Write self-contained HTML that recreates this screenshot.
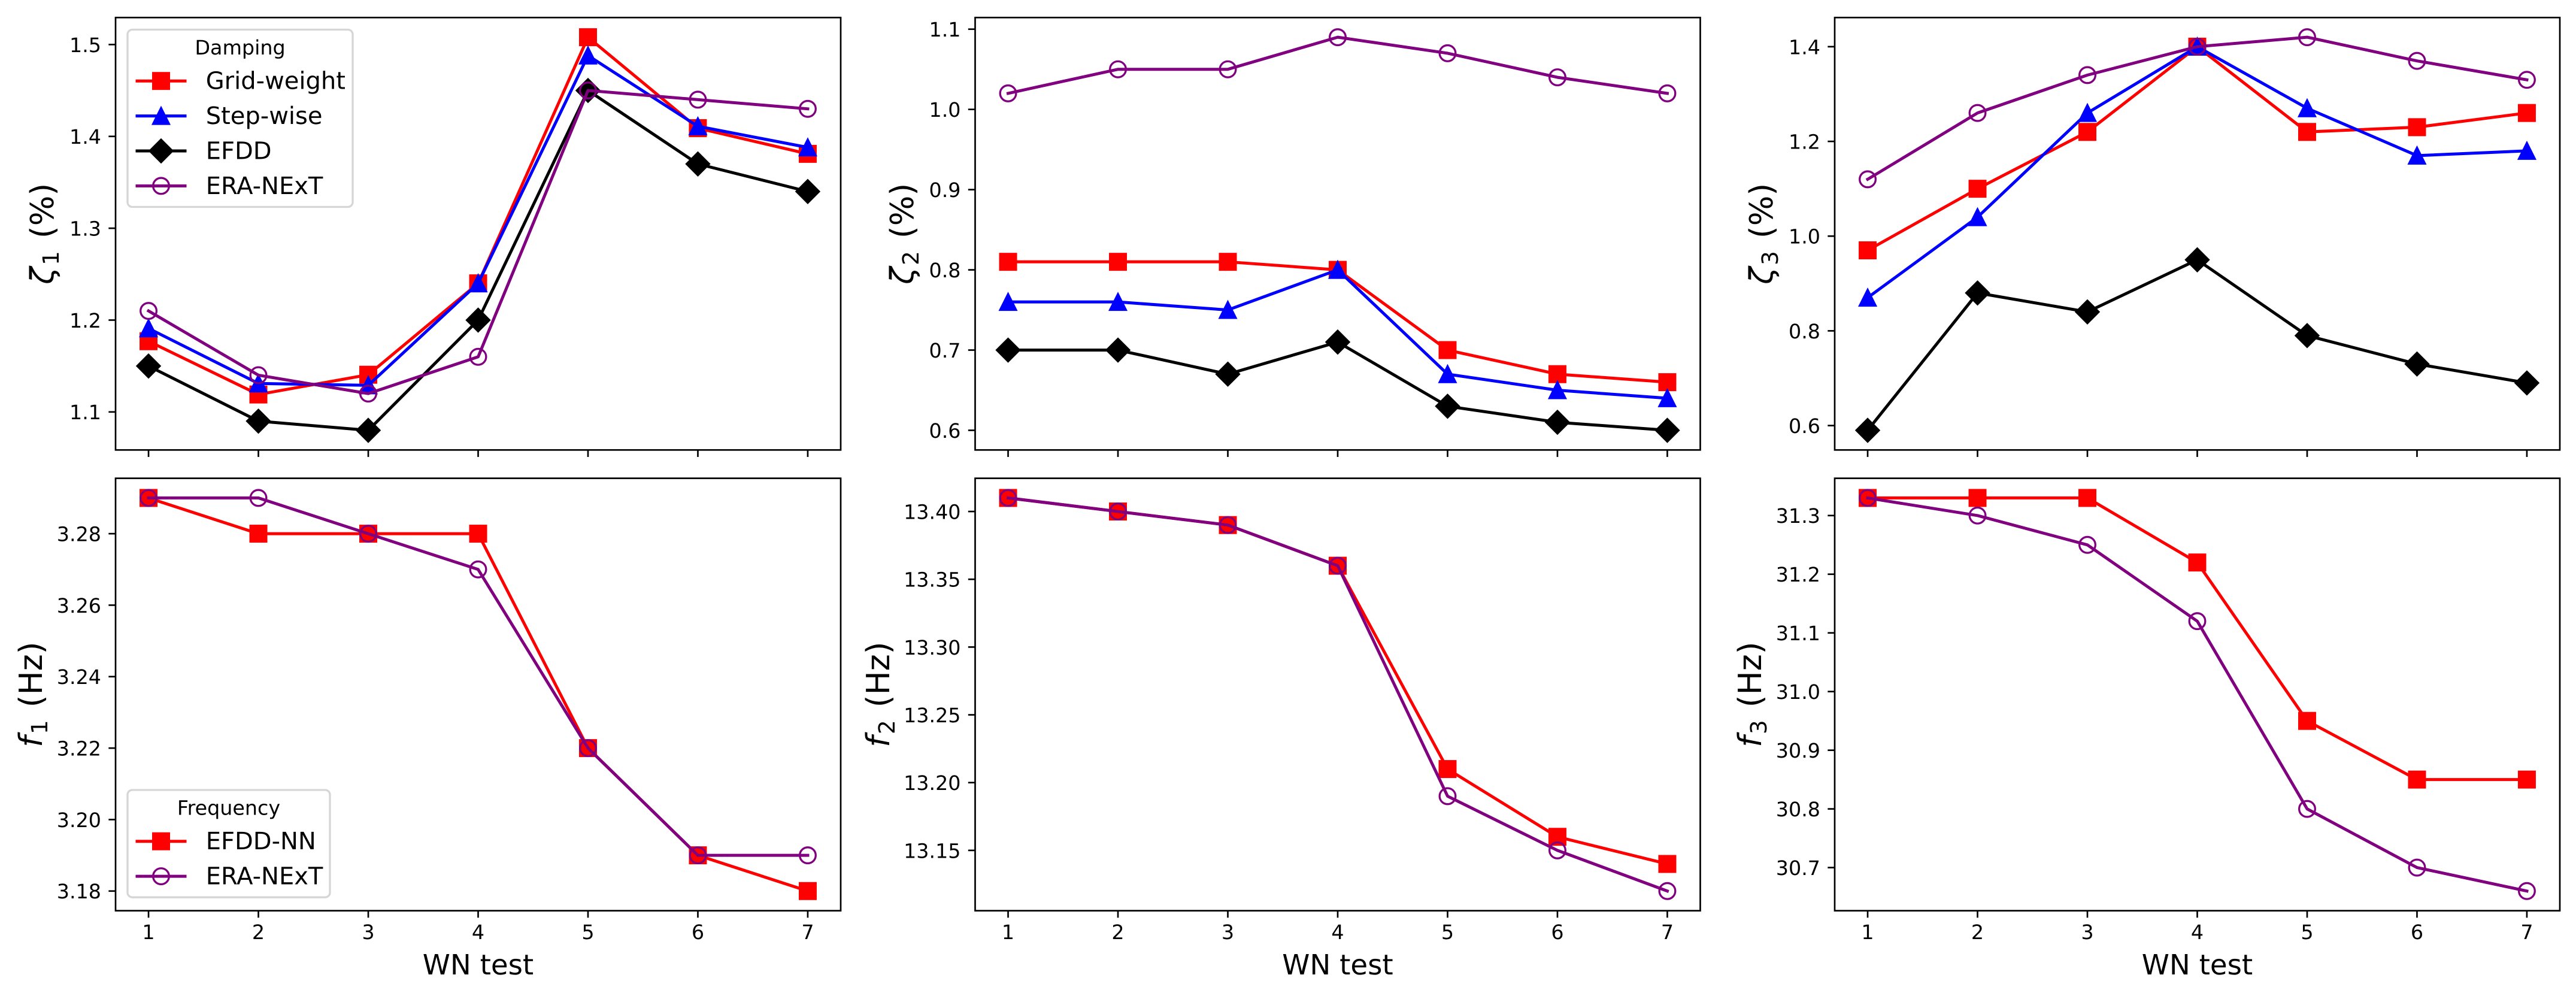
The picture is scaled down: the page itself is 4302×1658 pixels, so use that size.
<!DOCTYPE html>
<html lang="en">
<head>
<meta charset="utf-8">
<title>WN test damping and frequency comparison</title>
<style>
  html, body { margin: 0; padding: 0; background: #ffffff; }
  #chart { display: block; font-family: "DejaVu Sans", "Liberation Sans", sans-serif; text-rendering: geometricPrecision; }
</style>
</head>
<body>
<svg id="chart" xmlns="http://www.w3.org/2000/svg" width="4302" height="1658" viewBox="0 0 4302 1658">
  <rect x="0" y="0" width="4302" height="1658" fill="#ffffff"></rect>
</svg>
<script>
// ---- categories ----
const wnTests = [1, 2, 3, 4, 5, 6, 7];
const xLimits = [0.7, 7.3];

// ---- damping 1 ----
const zeta1GridWeight = [1.177, 1.119, 1.1405, 1.24, 1.508, 1.409, 1.381];
const zeta1StepWise = [1.191, 1.131, 1.129, 1.24, 1.488, 1.411, 1.388];
const zeta1Efdd = [1.15, 1.09, 1.08, 1.2, 1.45, 1.37, 1.34];
const zeta1EraNext = [1.21, 1.14, 1.12, 1.16, 1.45, 1.44, 1.43];
const zeta1Limits = [1.0586, 1.5294];
const zeta1Ticks = ["1.1", "1.2", "1.3", "1.4", "1.5"];

// ---- damping 2 ----
const zeta2GridWeight = [0.81, 0.81, 0.81, 0.8, 0.7, 0.67, 0.66];
const zeta2StepWise = [0.76, 0.76, 0.75, 0.8, 0.67, 0.65, 0.64];
const zeta2Efdd = [0.7, 0.7, 0.67, 0.71, 0.63, 0.61, 0.6];
const zeta2EraNext = [1.02, 1.05, 1.05, 1.09, 1.07, 1.04, 1.02];
const zeta2Limits = [0.5755, 1.1145];
const zeta2Ticks = ["0.6", "0.7", "0.8", "0.9", "1.0", "1.1"];

// ---- damping 3 ----
const zeta3GridWeight = [0.97, 1.1, 1.22, 1.4, 1.22, 1.23, 1.26];
const zeta3StepWise = [0.87, 1.04, 1.26, 1.4, 1.27, 1.17, 1.18];
const zeta3Efdd = [0.59, 0.88, 0.84, 0.95, 0.79, 0.73, 0.69];
const zeta3EraNext = [1.12, 1.26, 1.34, 1.4, 1.42, 1.37, 1.33];
const zeta3Limits = [0.5485, 1.4615];
const zeta3Ticks = ["0.6", "0.8", "1.0", "1.2", "1.4"];

// ---- frequency 1 ----
const freq1EfddNn = [3.29, 3.28, 3.28, 3.28, 3.22, 3.19, 3.18];
const freq1EraNext = [3.29, 3.29, 3.28, 3.27, 3.22, 3.19, 3.19];
const freq1Limits = [3.1745, 3.2955];
const freq1Ticks = ["3.18", "3.20", "3.22", "3.24", "3.26", "3.28"];

// ---- frequency 2 ----
const freq2EfddNn = [13.41, 13.4, 13.39, 13.36, 13.21, 13.16, 13.14];
const freq2EraNext = [13.41, 13.4, 13.39, 13.36, 13.19, 13.15, 13.12];
const freq2Limits = [13.1055, 13.4245];
const freq2Ticks = ["13.15", "13.20", "13.25", "13.30", "13.35", "13.40"];

// ---- frequency 3 ----
const freq3EfddNn = [31.33, 31.33, 31.33, 31.22, 30.95, 30.85, 30.85];
const freq3EraNext = [31.33, 31.3, 31.25, 31.12, 30.8, 30.7, 30.66];
const freq3Limits = [30.6265, 31.3635];
const freq3Ticks = ["30.7", "30.8", "30.9", "31.0", "31.1", "31.2", "31.3"];

// ---- legend text ----
const dampingLegendTitle = "Damping";
const dampingLegendLabels = ["Grid-weight", "Step-wise", "EFDD", "ERA-NExT"];
const frequencyLegendTitle = "Frequency";
const frequencyLegendLabels = ["EFDD-NN", "ERA-NExT"];
const xAxisTitle = "WN test";

// ---- styles per method ----
const gridStyle = { color: "#ff0000", marker: "square" };
const stepStyle = { color: "#0000ff", marker: "triangle" };
const efddStyle = { color: "#000000", marker: "diamond" };
const eraStyle = { color: "#800080", marker: "circle" };

const svg = document.getElementById("chart");
const NS = "http://www.w3.org/2000/svg";
const axisWidth = 1211;
const rowHeight = 722;
const markerHalf = 13.33;
const markerStroke = 3.33;

function mk(tag, attrs, parent) {
  const node = document.createElementNS(NS, tag);
  for (const key in attrs) node.setAttribute(key, attrs[key]);
  parent.appendChild(node);
  return node;
}

function axisLeft(col) { return 193 + col * 1435.5; }
function axisTop(row) { return row === 0 ? 29.3 : 798.6; }

function xScale(box, v) {
  return box.left + (v - xLimits[0]) / (xLimits[1] - xLimits[0]) * box.width;
}
function yScale(box, limits, v) {
  return box.top + box.height - (v - limits[0]) / (limits[1] - limits[0]) * box.height;
}

function drawMarker(kind, cx, cy, color, parent) {
  const h = markerHalf;
  let shape;
  if (kind === "square") {
    shape = mk("rect", { x: cx - h, y: cy - h, width: 2 * h, height: 2 * h, fill: color, stroke: color, "stroke-width": markerStroke, "stroke-linejoin": "miter" }, parent);
  } else if (kind === "triangle") {
    shape = mk("polygon", { points: cx + "," + (cy - h) + " " + (cx - h) + "," + (cy + h) + " " + (cx + h) + "," + (cy + h), fill: color, stroke: color, "stroke-width": markerStroke, "stroke-linejoin": "miter" }, parent);
  } else if (kind === "diamond") {
    const d = h * Math.SQRT2;
    shape = mk("polygon", { points: cx + "," + (cy - d) + " " + (cx + d) + "," + cy + " " + cx + "," + (cy + d) + " " + (cx - d) + "," + cy, fill: color, stroke: color, "stroke-width": markerStroke, "stroke-linejoin": "miter" }, parent);
  } else {
    shape = mk("circle", { cx: cx, cy: cy, r: h, fill: "none", stroke: color, "stroke-width": markerStroke }, parent);
  }
  return shape;
}

function drawSeries(box, limits, values, style, name, parent) {
  const group = mk("g", {}, parent);
  
  
  const pts = values.map(function (v, i) {
    return xScale(box, wnTests[i]) + "," + yScale(box, limits, v);
  }).join(" ");
  const line = mk("polyline", { points: pts, fill: "none", stroke: style.color, "stroke-width": 5, "stroke-linecap": "square", "stroke-linejoin": "round" }, group);
  
  
  values.forEach(function (v, i) {
    const point = drawMarker(style.marker, xScale(box, wnTests[i]), yScale(box, limits, v), style.color, group);
    
    
  });
}

function drawAxes(panel, parent) {
  const box = panel.box;
  const xGroup = mk("g", {}, parent);
  
  
  wnTests.forEach(function (t) {
    const x = xScale(box, t);
    const tick = mk("line", { x1: x, x2: x, y1: box.top + box.height, y2: box.top + box.height + 11.67, stroke: "#000", "stroke-width": 2.67 }, xGroup);
    
    
    if (panel.showX) {
      const label = mk("text", { x: x, y: box.top + box.height + 47.5, "text-anchor": "middle", "font-size": 33.33, fill: "#000" }, xGroup);
      label.textContent = String(t);
      
      
    }
  });
  if (panel.showX) {
    const title = mk("text", { x: box.left + box.width / 2, y: 1627, "text-anchor": "middle", "font-size": 46.67, fill: "#000" }, xGroup);
    title.textContent = xAxisTitle;
    
    
  }
  const yGroup = mk("g", {}, parent);
  
  
  panel.ticks.forEach(function (text) {
    const y = yScale(box, panel.limits, parseFloat(text));
    const tick = mk("line", { x1: box.left - 11.67, x2: box.left, y1: y, y2: y, stroke: "#000", "stroke-width": 2.67 }, yGroup);
    
    
    const label = mk("text", { x: box.left - 24, y: y + 12.4, "text-anchor": "end", "font-size": 33.33, fill: "#000" }, yGroup);
    label.textContent = text;
    
    
  });
  const cy = box.top + box.height / 2;
  const yTitle = mk("text", { x: panel.titleX, y: cy, "text-anchor": "middle", "font-size": 53.33, fill: "#000", transform: "rotate(-90 " + panel.titleX + " " + cy + ")" }, yGroup);
  
  
  const sym = mk("tspan", { "font-style": "italic" }, yTitle);
  sym.textContent = panel.symbol;
  const sub = mk("tspan", { "font-size": 37.33, dy: 9, dx: 3 }, yTitle);
  sub.textContent = panel.sub;
  const unit = mk("tspan", { dy: -9, dx: 21 }, yTitle);
  unit.textContent = panel.unit;
}

function drawFrame(panel, parent) {
  const box = panel.box;
  const frame = mk("rect", { x: box.left, y: box.top, width: box.width, height: box.height, fill: "none", stroke: "#000", "stroke-width": 2.67 }, parent);
  
  
}

function drawLegend(box, titleText, labels, styles, right, top, name, parent) {
  const group = mk("g", {}, parent);
  
  
  const left = box.left + 20;
  const rows = labels.length;
  const height = 59 + rows * 58.4 + 3.4;
  const frameTop = top;
  const frame = mk("rect", { x: left, y: frameTop, width: right - left, height: height, rx: 8, ry: 8, fill: "#ffffff", "fill-opacity": 0.8, stroke: "#cccccc", "stroke-opacity": 0.8, "stroke-width": 3.33 }, group);
  
  
  const title = mk("text", { x: (left + right) / 2, y: frameTop + 41.5, "text-anchor": "middle", "font-size": 33.33, fill: "#000" }, group);
  title.textContent = titleText;
  
  
  labels.forEach(function (text, i) {
    const y = frameTop + 85.7 + i * 58.4;
    const entry = mk("g", {}, group);
    
    
    const swatch = mk("line", { x1: left + 16, x2: left + 96, y1: y, y2: y, stroke: styles[i].color, "stroke-width": 5, "stroke-linecap": "square" }, entry);
    
    
    const glyph = drawMarker(styles[i].marker, left + 56, y, styles[i].color, entry);
    
    
    const label = mk("text", { x: left + 130.7, y: y + 13.5, "font-size": 40, fill: "#000" }, entry);
    label.textContent = text;
    
    
  });
}

function box(col, row) {
  return { left: axisLeft(col), top: axisTop(row), width: axisWidth, height: rowHeight };
}

const panels = [
  { name: "zeta-1", box: box(0, 0), limits: zeta1Limits, ticks: zeta1Ticks, symbol: "ζ", sub: "1", unit: "(%)", titleX: 89, showX: false,
    series: [[zeta1GridWeight, gridStyle, "grid-weight"], [zeta1StepWise, stepStyle, "step-wise"], [zeta1Efdd, efddStyle, "efdd"], [zeta1EraNext, eraStyle, "era-next"]] },
  { name: "zeta-2", box: box(1, 0), limits: zeta2Limits, ticks: zeta2Ticks, symbol: "ζ", sub: "2", unit: "(%)", titleX: 1525, showX: false,
    series: [[zeta2GridWeight, gridStyle, "grid-weight"], [zeta2StepWise, stepStyle, "step-wise"], [zeta2Efdd, efddStyle, "efdd"], [zeta2EraNext, eraStyle, "era-next"]] },
  { name: "zeta-3", box: box(2, 0), limits: zeta3Limits, ticks: zeta3Ticks, symbol: "ζ", sub: "3", unit: "(%)", titleX: 2960, showX: false,
    series: [[zeta3GridWeight, gridStyle, "grid-weight"], [zeta3StepWise, stepStyle, "step-wise"], [zeta3Efdd, efddStyle, "efdd"], [zeta3EraNext, eraStyle, "era-next"]] },
  { name: "freq-1", box: box(0, 1), limits: freq1Limits, ticks: freq1Ticks, symbol: "f", sub: "1", unit: "(Hz)", titleX: 70, showX: true,
    series: [[freq1EfddNn, gridStyle, "efdd-nn"], [freq1EraNext, eraStyle, "era-next"]] },
  { name: "freq-2", box: box(1, 1), limits: freq2Limits, ticks: freq2Ticks, symbol: "f", sub: "2", unit: "(Hz)", titleX: 1485, showX: true,
    series: [[freq2EfddNn, gridStyle, "efdd-nn"], [freq2EraNext, eraStyle, "era-next"]] },
  { name: "freq-3", box: box(2, 1), limits: freq3Limits, ticks: freq3Ticks, symbol: "f", sub: "3", unit: "(Hz)", titleX: 2941, showX: true,
    series: [[freq3EfddNn, gridStyle, "efdd-nn"], [freq3EraNext, eraStyle, "era-next"]] }
];

panels.forEach(function (panel) {
  const group = mk("g", {}, svg);
  
  
  drawAxes(panel, group);
  panel.series.forEach(function (s) {
    drawSeries(panel.box, panel.limits, s[0], s[1], s[2], group);
  });
  drawFrame(panel, group);
  if (panel.name === "zeta-1") {
    drawLegend(panel.box, dampingLegendTitle, dampingLegendLabels, [gridStyle, stepStyle, efddStyle, eraStyle], 589, 49.5, 'damping-legend', group);
  }
  if (panel.name === "freq-1") {
    drawLegend(panel.box, frequencyLegendTitle, frequencyLegendLabels, [gridStyle, eraStyle], 551, 1319, 'frequency-legend', group);
  }
});
</script>
</body>
</html>
